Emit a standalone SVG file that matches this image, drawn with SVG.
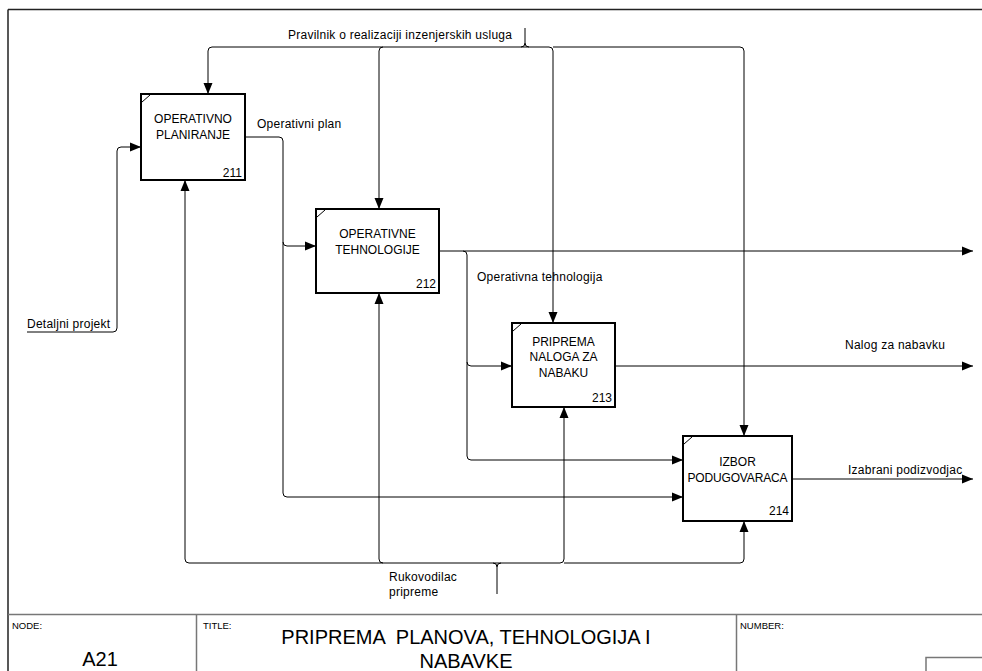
<svg xmlns="http://www.w3.org/2000/svg" width="982" height="671" viewBox="0 0 982 671">
<defs>
<marker id="ah" markerUnits="userSpaceOnUse" markerWidth="12" markerHeight="10" refX="11" refY="5" orient="auto">
<path d="M0,0.5 L11,5 L0,9.5 Z" fill="#000"/>
</marker>
<style>
.box{fill:#fff;stroke:#000;stroke-width:2}
.c{fill:none;stroke:#000;stroke-width:1}
.ca{fill:none;stroke:#000;stroke-width:1;marker-end:url(#ah)}
.t{font-family:"Liberation Sans",Arial,sans-serif;font-size:12px;letter-spacing:0.25px;fill:#000}
.bt{font-family:"Liberation Sans",Arial,sans-serif;font-size:12px;fill:#000;text-anchor:middle}
.n{font-family:"Liberation Sans",Arial,sans-serif;font-size:12px;fill:#000;text-anchor:end}
.s{font-family:"Liberation Sans",Arial,sans-serif;font-size:9.5px;fill:#000}
.frame{fill:none;stroke:#222;stroke-width:1.5}
.tb{fill:none;stroke:#777;stroke-width:1.5}
</style>
</defs>
<g id="frame">
<path class="frame" d="M8,9.5 H982 M8,9.5 V671"/>
<path class="tb" d="M8,614.5 H982 M196.5,614.5 V671 M736.5,614.5 V671"/>
<path fill="none" stroke="#777" stroke-width="1.5" d="M926,671 V657.5 H982"/>
<text class="s" x="12" y="629">NODE:</text>
<text x="100" y="666" font-family="'Liberation Sans',Arial,sans-serif" font-size="20" text-anchor="middle">A21</text>
<text class="s" x="203" y="629">TITLE:</text>
<text x="466" y="644" font-family="'Liberation Sans',Arial,sans-serif" font-size="20" text-anchor="middle" xml:space="preserve" style="white-space:pre">PRIPREMA  PLANOVA, TEHNOLOGIJA I</text>
<text x="466" y="668" font-family="'Liberation Sans',Arial,sans-serif" font-size="20" text-anchor="middle">NABAVKE</text>
<text class="s" x="740" y="629">NUMBER:</text>
</g>
<g id="connectors">
<path class="ca" d="M525,47 H212 Q208,47 208,51 V94"/>
<path class="ca" d="M383,47 Q379,47 379,51 V209"/>
<path class="ca" d="M525,47 H549 Q553,47 553,51 V323"/>
<path class="ca" d="M553,47 H740 Q744,47 744,51 V436"/>
<path class="c" d="M525,28 V43 Q525,47 521,47 M525,43 Q525,47 529,47"/>
<path class="ca" d="M27,332 H113 Q117,332 117,328 V151 Q117,147 121,147 H141"/>
<path class="ca" d="M245,137 H279 Q283,137 283,141 V242 Q283,246 287,246 H316"/>
<path class="ca" d="M283,242 V493 Q283,497 287,497 H683"/>
<path class="ca" d="M439,251 H973"/>
<path class="ca" d="M463,251 Q467,251 467,255 V362 Q467,366 471,366 H512"/>
<path class="ca" d="M467,362 V456 Q467,460 471,460 H683"/>
<path class="ca" d="M615,366 H973"/>
<path class="ca" d="M792,479 H973"/>
<path class="ca" d="M497,563 H189 Q185,563 185,559 V180"/>
<path class="ca" d="M383,563 Q379,563 379,559 V293"/>
<path class="ca" d="M497,563 H560 Q564,563 564,559 V407"/>
<path class="ca" d="M564,563 H740 Q744,563 744,559 V521"/>
<path class="c" d="M497,594 V567 Q497,563 493,563 M497,567 Q497,563 501,563"/>
<text class="t" x="288" y="39">Pravilnik o realizaciji inzenjerskih usluga</text>
<text class="t" x="27" y="328">Detaljni projekt</text>
<text class="t" x="257" y="128">Operativni plan</text>
<text class="t" x="477" y="281">Operativna tehnologija</text>
<text class="t" x="845" y="349">Nalog za nabavku</text>
<text class="t" x="848" y="474">Izabrani podizvodjac</text>
<text class="t" x="389" y="581">Rukovodilac</text>
<text class="t" x="389" y="596">pripreme</text>
</g>
<g id="node211">
<rect class="box" x="141" y="94" width="104" height="86"/>
<path class="c" d="M142,102 L150,95"/>
<text class="bt" x="193" y="123">OPERATIVNO</text>
<text class="bt" x="193" y="139">PLANIRANJE</text>
<text class="n" x="242" y="177">211</text>
</g>
<g id="node212">
<rect class="box" x="316" y="209" width="123" height="84"/>
<path class="c" d="M317,217 L325,210"/>
<text class="bt" x="377.5" y="238">OPERATIVNE</text>
<text class="bt" x="377.5" y="254">TEHNOLOGIJE</text>
<text class="n" x="436" y="288">212</text>
</g>
<g id="node213">
<rect class="box" x="512" y="323" width="103" height="84"/>
<path class="c" d="M513,331 L521,324"/>
<text class="bt" x="563.5" y="346">PRIPREMA</text>
<text class="bt" x="563.5" y="361">NALOGA ZA</text>
<text class="bt" x="563.5" y="377">NABAKU</text>
<text class="n" x="612" y="402">213</text>
</g>
<g id="node214">
<rect class="box" x="683" y="436" width="109" height="85"/>
<path class="c" d="M684,444 L692,437"/>
<text class="bt" x="737.5" y="466">IZBOR</text>
<text class="bt" x="737.5" y="482" textLength="100" lengthAdjust="spacing">PODUGOVARACA</text>
<text class="n" x="789" y="515">214</text>
</g>
</svg>
